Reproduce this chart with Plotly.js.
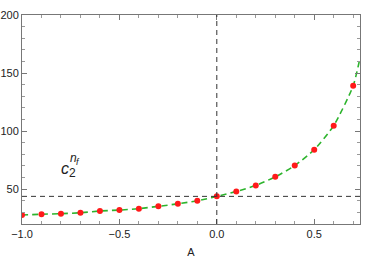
<!DOCTYPE html>
<html>
<head>
<meta charset="utf-8">
<script src="https://cdn.plot.ly/plotly-3.0.1.min.js"></script>
<style>
  html, body { margin: 0; padding: 0; background: #fff; }
  #chart { width: 366px; height: 267px; }
</style>
</head>
<body>
<div id="chart"></div>
<script>
// Values
var dotX = [-1.0, -0.9, -0.8, -0.7, -0.6, -0.5, -0.4, -0.3, -0.2, -0.1, 0.0, 0.1, 0.2, 0.3, 0.4, 0.5, 0.6, 0.7];
var dotY = [27.8, 28.4, 28.9, 29.7, 31.2, 32.0, 33.2, 35.2, 37.4, 40.0, 43.8, 48.0, 53.2, 60.6, 70.3, 84.0, 104.7, 139.0];

// dashed fit curve: same points plus where it leaves the frame
var curveX = dotX.concat([0.735]);
var curveY = dotY.concat([163]);

var refValue = 43.8;   // horizontal dashed line
var refA = 0;          // vertical dashed line

var xRange = [-1, 0.735];
var yRange = [20, 200];

var fontFam = 'Liberation Sans, Arial, sans-serif';
var tickFont = { family: fontFam, size: 11, color: '#222' };

var curve = {
  x: curveX,
  y: curveY,
  type: 'scatter',
  mode: 'lines',
  line: { color: '#2db42d', width: 1.6, dash: '6px,4px', shape: 'spline', smoothing: 0.6 },
  hoverinfo: 'skip'
};

var dots = {
  x: dotX,
  y: dotY,
  type: 'scatter',
  mode: 'markers',
  marker: { color: '#ff1a1a', size: 6 }
};

// label c_2^{n_f}, built from pieces so the 2 sits under the n_f
function piece(x, y, text, size) {
  return { x: x, y: y, xref: 'x', yref: 'y', showarrow: false, text: text,
           font: { family: fontFam, size: size, color: '#222' } };
}

var layout = {
  width: 366,
  height: 267,
  margin: { l: 22, r: 6, t: 15, b: 43 },
  paper_bgcolor: '#fff',
  plot_bgcolor: '#fff',
  showlegend: false,
  xaxis: {
    range: xRange,
    tickvals: [-1, -0.5, 0, 0.5],
    ticktext: ['\u22121.0', '\u22120.5', '0.0', '0.5'],
    ticks: 'inside', ticklen: 5, tickcolor: '#777', tickwidth: 1,
    minor: { dtick: 0.1, ticks: 'inside', ticklen: 3, tickcolor: '#999', showgrid: false },
    showgrid: false, zeroline: false,
    showline: true, linecolor: '#777', linewidth: 1, mirror: 'allticks',
    tickfont: tickFont,
    title: { text: 'A', font: tickFont, standoff: 9 }
  },
  yaxis: {
    range: yRange,
    tickvals: [50, 100, 150, 200],
    ticks: 'inside', ticklen: 5, tickcolor: '#777', tickwidth: 1,
    minor: { dtick: 10, ticks: 'inside', ticklen: 3, tickcolor: '#999', showgrid: false },
    showgrid: false, zeroline: false,
    showline: true, linecolor: '#777', linewidth: 1, mirror: 'allticks',
    tickfont: tickFont
  },
  shapes: [
    { type: 'line', xref: 'paper', x0: 0, x1: 1, yref: 'y', y0: refValue, y1: refValue,
      line: { color: '#333', width: 1, dash: '5px,4px' } },
    { type: 'line', xref: 'x', x0: refA, x1: refA, yref: 'paper', y0: 0, y1: 1,
      line: { color: '#333', width: 1, dash: '5px,4px' } }
  ],
  annotations: [
    piece(-0.778, 68, '<i>c</i>', 16),
    piece(-0.742, 63.5, '2', 12),
    piece(-0.738, 76.5, '<i>n</i>', 12),
    piece(-0.714, 73, '<i>f</i>', 9)
  ]
};

Plotly.newPlot('chart', [curve, dots], layout, { displayModeBar: false, staticPlot: true });
</script>
</body>
</html>
